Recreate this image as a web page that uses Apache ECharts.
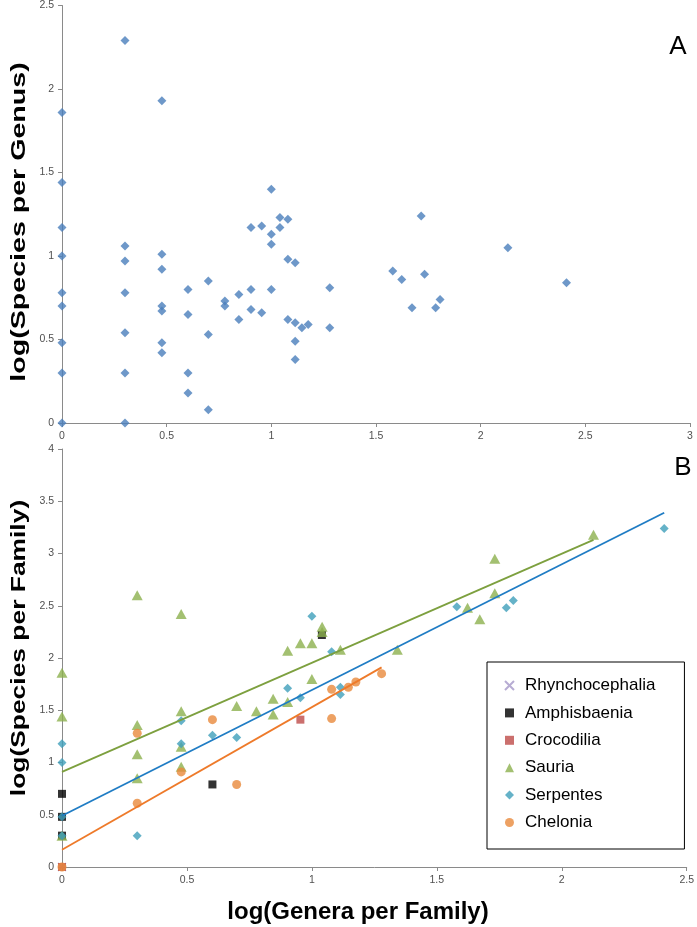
<!DOCTYPE html>
<html>
<head>
<meta charset="utf-8">
<script src="https://cdn.jsdelivr.net/npm/echarts@6/dist/echarts.min.js"></script>
<style>
  html, body { margin: 0; padding: 0; background: #fff; }
  #chart { width: 697px; height: 927px; }
</style>
</head>
<body>
<div id="chart"></div>
<script>
// panel A: log(genera per family) vs log(species per genus)
const genusPoints = [
  [0, 1.86], [0, 1.44], [0, 1.17], [0, 1.0], [0, 0.78], [0, 0.70], [0, 0.48], [0, 0.30], [0, 0],
  [0.301, 2.29], [0.301, 1.06], [0.301, 0.97], [0.301, 0.78], [0.301, 0.54], [0.301, 0.30], [0.301, 0],
  [0.477, 1.93], [0.477, 1.01], [0.477, 0.92], [0.477, 0.70], [0.477, 0.67], [0.477, 0.48], [0.477, 0.42],
  [0.602, 0.80], [0.602, 0.65], [0.602, 0.30], [0.602, 0.18],
  [0.699, 0.85], [0.699, 0.53], [0.699, 0.08],
  [0.778, 0.73], [0.778, 0.70],
  [0.845, 0.77], [0.845, 0.62],
  [0.903, 1.17], [0.903, 0.80], [0.903, 0.68],
  [0.954, 1.18], [0.954, 0.66],
  [1.0, 1.40], [1.0, 1.13], [1.0, 1.07], [1.0, 0.80],
  [1.041, 1.23], [1.041, 1.17],
  [1.079, 1.22], [1.079, 0.98], [1.079, 0.62],
  [1.114, 0.96], [1.114, 0.60], [1.114, 0.49], [1.114, 0.38],
  [1.146, 0.57], [1.176, 0.59],
  [1.279, 0.81], [1.279, 0.57],
  [1.58, 0.91], [1.623, 0.86], [1.672, 0.69], [1.716, 1.24], [1.732, 0.89],
  [1.785, 0.69], [1.806, 0.74], [2.13, 1.05], [2.41, 0.84]
]

// panel B: log(genera per family) vs log(species per family)
const rhynchocephalia = [[0, 0]]
const amphisbaenia = [[0, 0.70], [0, 0.48], [0, 0.30], [0.602, 0.79], [1.04, 2.22]]
const crocodilia = [[0, 0], [0.954, 1.41]]
const sauria = [
  [0, 1.86], [0, 1.44], [0, 0.30],
  [0.301, 2.60], [0.301, 1.36], [0.301, 1.08], [0.301, 0.85],
  [0.477, 2.42], [0.477, 1.49], [0.477, 1.15], [0.477, 0.96],
  [0.699, 1.54], [0.778, 1.49], [0.845, 1.61], [0.845, 1.46],
  [0.903, 2.07], [0.903, 1.58], [0.954, 2.14], [1.0, 2.14], [1.0, 1.80],
  [1.041, 2.30], [1.041, 2.25], [1.114, 2.08], [1.342, 2.08],
  [1.623, 2.48], [1.672, 2.37], [1.732, 2.95], [1.732, 2.62], [2.127, 3.18]
]
const serpentes = [
  [0, 1.18], [0, 1.0], [0, 0.48], [0, 0.30], [0.301, 0.30],
  [0.477, 1.40], [0.477, 1.18], [0.602, 1.26], [0.699, 1.24],
  [0.903, 1.71], [0.954, 1.62], [1.0, 2.40], [1.079, 2.06],
  [1.114, 1.72], [1.114, 1.65], [1.58, 2.49], [1.778, 2.48], [1.806, 2.55], [2.41, 3.24]
]
const chelonia = [
  [0, 0], [0.301, 1.28], [0.301, 0.61], [0.477, 0.91], [0.602, 1.41], [0.699, 0.79],
  [1.079, 1.70], [1.079, 1.42], [1.146, 1.72], [1.176, 1.77], [1.279, 1.85]
]

// linear trend lines (end points)
const sauriaTrend = [[0, 0.91], [2.127, 3.13]]
const serpentesTrend = [[0, 0.49], [2.41, 3.39]]
const cheloniaTrend = [[0, 0.165], [1.279, 1.91]]

const xTicksA = { min: 0, max: 3, interval: 0.5 }
const yTicksA = { min: 0, max: 2.5, interval: 0.5 }
const xTicksB = { min: 0, max: 2.5, interval: 0.5 }
const yTicksB = { min: 0, max: 4, interval: 0.5 }

const font = 'Liberation Sans'
const axisColor = '#8a8a8a'

function axis (ticks, gridIndex) {
  return {
    type: 'value',
    gridIndex: gridIndex,
    min: ticks.min,
    max: ticks.max,
    interval: ticks.interval,
    splitLine: { show: false },
    axisLine: { show: true, lineStyle: { color: axisColor, width: 1 } },
    axisTick: { show: true, length: 4, lineStyle: { color: axisColor } },
    axisLabel: { color: '#505050', fontSize: 10.5, fontFamily: font, margin: 8 }
  }
}

const chart = echarts.init(document.getElementById('chart'))

const option = {
  backgroundColor: '#fff',
  animation: false,
  grid: [
    { left: 62, top: 5, width: 628, height: 418 },
    { left: 62, top: 449, width: 625, height: 418 }
  ],
  xAxis: [axis(xTicksA, 0), axis(xTicksB, 1)],
  yAxis: [axis(yTicksA, 0), axis(yTicksB, 1)],
  legend: {
    orient: 'vertical',
    left: 487,
    top: 662,
    padding: [15, 29, 18, 17],
    itemGap: 10.4,
    itemWidth: 9,
    itemHeight: 9,
    borderColor: '#000',
    borderWidth: 1,
    data: ['Rhynchocephalia', 'Amphisbaenia', 'Crocodilia', 'Sauria', 'Serpentes', 'Chelonia'],
    textStyle: { fontSize: 17, fontFamily: font, color: '#000', padding: [0, 0, 0, 6] }
  },
  graphic: [
    {
      type: 'text', x: 19, y: 222, rotation: Math.PI / 2, scaleX: 1.43,
      style: { text: 'log(Species per Genus)', font: 'bold 20px "Liberation Sans"', fill: '#000', align: 'center', verticalAlign: 'middle' }
    },
    {
      type: 'text', x: 19, y: 648, rotation: Math.PI / 2, scaleX: 1.32,
      style: { text: 'log(Species per Family)', font: 'bold 20px "Liberation Sans"', fill: '#000', align: 'center', verticalAlign: 'middle' }
    },
    {
      type: 'text', x: 358, y: 912,
      style: { text: 'log(Genera per Family)', font: 'bold 24px "Liberation Sans"', fill: '#000', align: 'center', verticalAlign: 'middle' }
    },
    {
      type: 'text', x: 678, y: 47,
      style: { text: 'A', font: '26px "Liberation Sans"', fill: '#000', align: 'center', verticalAlign: 'middle' }
    },
    {
      type: 'text', x: 683, y: 468,
      style: { text: 'B', font: '26px "Liberation Sans"', fill: '#000', align: 'center', verticalAlign: 'middle' }
    }
  ],
  series: [
    {
      type: 'scatter', xAxisIndex: 0, yAxisIndex: 0,
      symbol: 'diamond', symbolSize: 9,
      itemStyle: { color: '#4a7ebb' },
      data: genusPoints
    },
    {
      name: 'Rhynchocephalia', type: 'scatter', xAxisIndex: 1, yAxisIndex: 1,
      symbol: 'path://M0,0L10,10M10,0L0,10', symbolSize: 8,
      itemStyle: { color: 'rgba(0,0,0,0)', borderColor: '#a597c8', borderWidth: 1.2 },
      data: rhynchocephalia
    },
    {
      name: 'Amphisbaenia', type: 'scatter', xAxisIndex: 1, yAxisIndex: 1,
      symbol: 'rect', symbolSize: 8,
      itemStyle: { color: '#000' },
      data: amphisbaenia
    },
    {
      name: 'Crocodilia', type: 'scatter', xAxisIndex: 1, yAxisIndex: 1,
      symbol: 'rect', symbolSize: 8,
      itemStyle: { color: '#be4b48' },
      data: crocodilia
    },
    {
      name: 'Sauria', type: 'scatter', xAxisIndex: 1, yAxisIndex: 1,
      symbol: 'triangle', symbolSize: [11, 10],
      itemStyle: { color: '#8cb04e' },
      data: sauria
    },
    {
      name: 'Serpentes', type: 'scatter', xAxisIndex: 1, yAxisIndex: 1,
      symbol: 'diamond', symbolSize: 9,
      itemStyle: { color: '#3f9fba' },
      data: serpentes
    },
    {
      name: 'Chelonia', type: 'scatter', xAxisIndex: 1, yAxisIndex: 1,
      symbol: 'circle', symbolSize: 9,
      itemStyle: { color: '#e88a3c' },
      data: chelonia
    },
    {
      type: 'line', xAxisIndex: 1, yAxisIndex: 1, symbol: 'none', silent: true,
      lineStyle: { color: '#7da03f', width: 1.8 },
      data: sauriaTrend
    },
    {
      type: 'line', xAxisIndex: 1, yAxisIndex: 1, symbol: 'none', silent: true,
      lineStyle: { color: '#1f7cc4', width: 1.8 },
      data: serpentesTrend
    },
    {
      type: 'line', xAxisIndex: 1, yAxisIndex: 1, symbol: 'none', silent: true,
      lineStyle: { color: '#ee7a2a', width: 1.8 },
      data: cheloniaTrend
    }
  ]
}

chart.setOption(option)
</script>
</body>
</html>
